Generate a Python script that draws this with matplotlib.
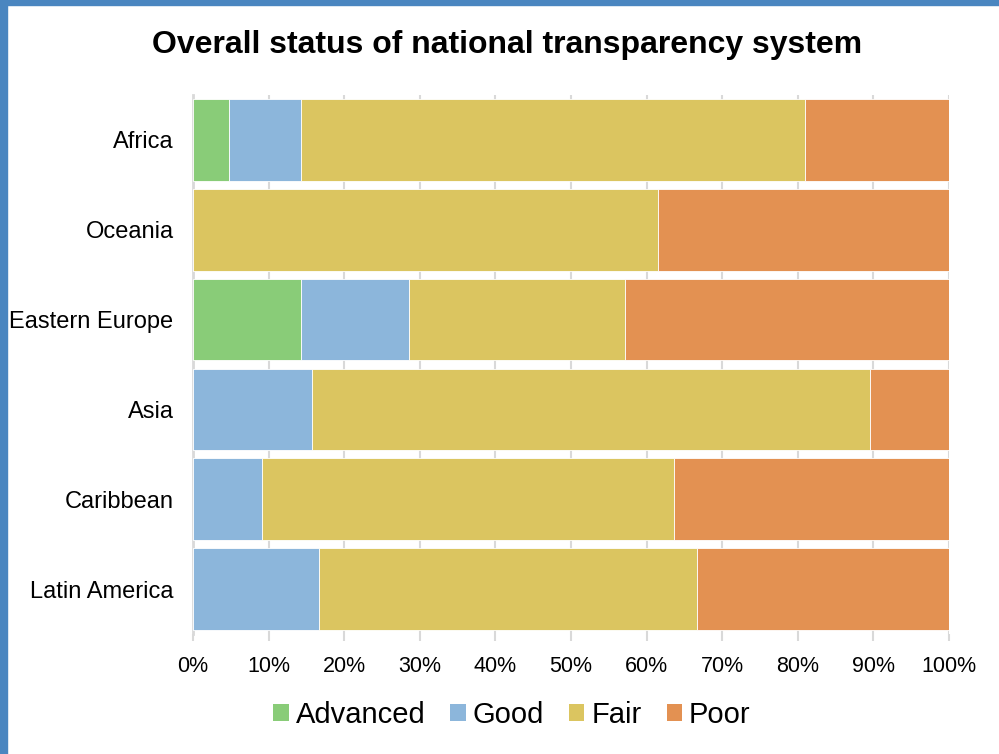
import numpy as np
import matplotlib.pyplot as plt
from matplotlib.patches import Rectangle, Patch

plt.rcParams['font.family'] = ['Liberation Sans', 'DejaVu Sans']

# -----------------------------------------------
# Data (share of countries, %)
# -----------------------------------------------
regions = ["Africa", "Oceania", "Eastern Europe", "Asia", "Caribbean", "Latin America"]
advanced = [4.8, 0.0, 14.3, 0.0, 0.0, 0.0]
good = [9.5, 0.0, 14.3, 15.8, 9.1, 16.7]
fair = [66.7, 61.5, 28.6, 73.7, 54.5, 50.0]
poor = [19.0, 38.5, 42.8, 10.5, 36.4, 33.3]
levels = ["Advanced", "Good", "Fair", "Poor"]
colors = ["#89CC78", "#8CB6DB", "#DBC560", "#E39152"]

# -----------------------------------------------
# Figure
# -----------------------------------------------
fig = plt.figure(figsize=(9.99, 7.54), dpi=100)
W, H = 999, 754
ax = fig.add_axes([193 / W, 1 - 634 / H, 756 / W, 539 / H])

# blue frame on left / top edge
fig.patches.append(Rectangle((0, 0), 7 / W, 1, transform=fig.transFigure,
                             color="#4A86C0", zorder=0))
fig.patches.append(Rectangle((0, 1 - 5 / H), 1, 5 / H, transform=fig.transFigure,
                             color="#4A86C0", zorder=0))

y = np.arange(len(regions))
left = np.zeros(len(regions))
for vals, lab, col in zip([advanced, good, fair, poor], levels, colors):
    ax.barh(y, vals, left=left, height=0.91, color=col, edgecolor="white",
            linewidth=0.6, label=lab, zorder=3)
    left += np.array(vals)

ax.set_ylim(len(regions) - 0.5, -0.5)
ax.set_xlim(0, 100)
ax.set_yticks(y)
ax.set_yticklabels(regions, fontsize=17)
ax.set_xticks(np.arange(0, 101, 10))
ax.set_xticklabels([f"{v}%" for v in range(0, 101, 10)], fontsize=15.5)

ax.grid(axis="x", color="#D9D9D9", linewidth=1.5, zorder=0)
ax.set_axisbelow(True)
for s in ["top", "right", "bottom"]:
    ax.spines[s].set_visible(False)
ax.spines["left"].set_color("#D9D9D9")
ax.spines["left"].set_linewidth(2)
ax.tick_params(axis="y", length=0, pad=14)
ax.tick_params(axis="x", length=5, color="#D9D9D9", width=1.5, pad=11)

fig.text(507 / W, 1 - 45 / H, "Overall status of national transparency system",
         ha="center", va="center", fontsize=23, fontweight="bold")

handles = [Patch(facecolor=c, edgecolor="none", label=l) for l, c in zip(levels, colors)]
fig.legend(handles=handles, loc="center", bbox_to_anchor=(512 / W, 1 - 715 / H),
           ncol=4, frameon=False, fontsize=21, handlelength=0.52, handleheight=0.52,
           handletextpad=0.25, columnspacing=0.85, borderpad=0)

plt.savefig("out.png", dpi=100)
